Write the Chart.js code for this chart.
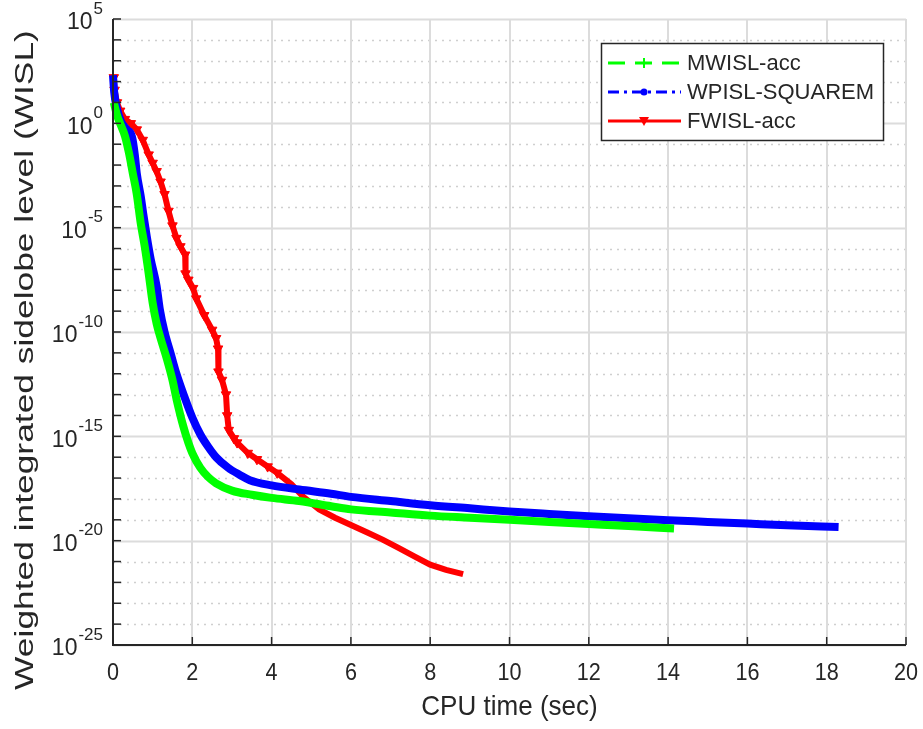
<!DOCTYPE html>
<html>
<head>
<meta charset="utf-8">
<script src="https://cdn.jsdelivr.net/npm/chart.js@4/dist/chart.umd.min.js"></script>
<style>
    html, body { margin: 0; padding: 0; background: #fff; }
    #wrap { width: 923px; height: 729px; }
</style>
</head>
<body>
<div id="wrap"><canvas id="wislChart" width="923" height="729"></canvas></div>
<script>
// values: CPU time (sec) and log10(WISL)
const mwislTime = [0.02, 0.1, 0.2, 0.3, 0.4, 0.5, 0.6, 0.7, 0.8, 0.9, 1.0, 1.1, 1.2, 1.36, 1.5, 1.6, 1.77, 1.9, 2.0, 2.2, 2.4, 2.6, 3.0, 3.5, 4.0, 4.7, 5.5, 6.0, 7.0, 8.0, 9.0, 10.0, 11.0, 12.0, 13.0, 14.15];
const mwislLog = [1.0, 0.4, -0.1, -0.6, -1.4, -2.4, -3.4, -4.8, -5.9, -7.2, -8.6, -9.6, -10.3, -11.3, -12.3, -13.2, -14.5, -15.3, -15.8, -16.5, -16.95, -17.25, -17.6, -17.8, -17.95, -18.1, -18.35, -18.5, -18.65, -18.8, -18.9, -19.0, -19.1, -19.2, -19.3, -19.42];

const wpislTime = [0.0, 0.03, 0.1, 0.2, 0.35, 0.48, 0.55, 0.6, 0.7, 0.76, 0.85, 0.95, 1.1, 1.18, 1.3, 1.45, 1.6, 1.8, 2.0, 2.2, 2.4, 2.6, 2.9, 3.2, 3.45, 4.0, 4.7, 5.5, 6.0, 7.0, 8.0, 9.0, 10.0, 11.0, 12.0, 13.0, 14.0, 15.0, 16.0, 17.0, 18.3];
const wpislLog = [2.3, 1.5, 0.7, 0.1, -0.3, -0.65, -1.5, -2.4, -3.5, -4.3, -5.4, -6.5, -7.8, -8.9, -10.0, -11.0, -12.0, -13.1, -14.1, -14.9, -15.5, -16.0, -16.5, -16.85, -17.1, -17.35, -17.55, -17.75, -17.9, -18.1, -18.3, -18.45, -18.6, -18.72, -18.83, -18.93, -19.02, -19.1, -19.18, -19.26, -19.35];

const fwislTime = [0.02, 0.04, 0.1, 0.18, 0.3, 0.45, 0.6, 0.75, 0.9, 1.0, 1.1, 1.2, 1.3, 1.4, 1.5, 1.6, 1.7, 1.82, 1.83, 1.9, 2.02, 2.1, 2.3, 2.5, 2.6, 2.65, 2.66, 2.75, 2.85, 2.88, 2.92, 3.05, 3.13, 3.4, 3.63, 3.9, 4.14, 4.5, 4.8, 5.2, 5.6, 6.0, 6.4, 6.8, 7.2, 7.6, 8.0, 8.4, 8.83];
const fwislLog = [2.2, 1.6, 1.0, 0.6, 0.2, 0.0, -0.3, -0.8, -1.5, -1.9, -2.3, -2.8, -3.4, -4.2, -4.9, -5.5, -5.9, -6.3, -7.2, -7.5, -7.9, -8.4, -9.2, -9.9, -10.3, -10.8, -11.9, -12.3, -13.0, -14.0, -14.7, -15.1, -15.3, -15.8, -16.1, -16.45, -16.75, -17.3, -17.9, -18.5, -18.9, -19.25, -19.6, -19.95, -20.35, -20.75, -21.15, -21.4, -21.6];

const xTicks = [0, 2, 4, 6, 8, 10, 12, 14, 16, 18, 20];
const yExponents = [5, 0, -5, -10, -15, -20, -25];
const seriesNames = ['MWISL-acc', 'WPISL-SQUAREM', 'FWISL-acc'];

const FONT = '"Liberation Sans", Arial, Helvetica, sans-serif';

function toPoints(times, logs) {
    return times.map((t, i) => ({ x: t, y: Math.pow(10, logs[i]) }));
}

// text with a stretch, the figure was saved a bit narrower than tall
function drawText(ctx, str, x, y, size, align, sx, rot) {
    ctx.save();
    ctx.translate(x, y);
    if (rot) ctx.rotate(rot);
    ctx.scale(sx, 1);
    ctx.font = size + 'px ' + FONT;
    ctx.textAlign = align;
    ctx.textBaseline = 'middle';
    ctx.fillStyle = '#262626';
    ctx.fillText(str, 0, 0);
    ctx.restore();
}

function drawMarker(ctx, style, x, y, color) {
    ctx.save();
    ctx.fillStyle = color;
    ctx.strokeStyle = color;
    ctx.lineWidth = 2;
    ctx.setLineDash([]);
    ctx.beginPath();
    if (style === 'plus') {
        ctx.moveTo(x - 5, y); ctx.lineTo(x + 5, y);
        ctx.moveTo(x, y - 5); ctx.lineTo(x, y + 5);
        ctx.stroke();
    } else if (style === 'dot') {
        ctx.arc(x, y, 3.5, 0, Math.PI * 2);
        ctx.fill();
    } else {
        ctx.moveTo(x - 5, y - 4); ctx.lineTo(x + 5, y - 4); ctx.lineTo(x, y + 5);
        ctx.closePath();
        ctx.fill();
    }
    ctx.restore();
}

const matlabAxes = {
    id: 'matlabAxes',
    beforeDatasetsDraw(chart) {
        const ctx = chart.ctx;
        const area = chart.chartArea;
        const xs = chart.scales.x, ys = chart.scales.y;
        ctx.save();
        // y grid, solid on every 5th decade, dotted between
        for (let e = -25; e <= 5; e++) {
            const py = Math.round(ys.getPixelForValue(Math.pow(10, e))) + 0.5;
            ctx.beginPath();
            if (e % 5 === 0) {
                ctx.setLineDash([]);
                ctx.strokeStyle = '#dcdcdc';
                ctx.lineWidth = 2;
            } else {
                ctx.setLineDash([2, 5]);
                ctx.strokeStyle = '#cfcfcf';
                ctx.lineWidth = 1.5;
            }
            ctx.moveTo(area.left, py);
            ctx.lineTo(area.right, py);
            ctx.stroke();
        }
        ctx.setLineDash([]);
        ctx.strokeStyle = '#dcdcdc';
        ctx.lineWidth = 2;
        xTicks.forEach(v => {
            if (v === 0) return;
            const px = Math.round(xs.getPixelForValue(v));
            ctx.beginPath();
            ctx.moveTo(px, area.top);
            ctx.lineTo(px, area.bottom);
            ctx.stroke();
        });
        ctx.restore();
    },
    afterDatasetsDraw(chart) {
        const ctx = chart.ctx;
        const area = chart.chartArea;
        const xs = chart.scales.x, ys = chart.scales.y;
        ctx.save();
        // axes lines
        ctx.strokeStyle = '#262626';
        ctx.lineWidth = 2;
        ctx.beginPath();
        ctx.moveTo(area.left, area.top);
        ctx.lineTo(area.left, area.bottom);
        ctx.lineTo(area.right, area.bottom);
        ctx.stroke();
        // tick marks
        ctx.lineWidth = 1.5;
        for (let e = -25; e <= 5; e++) {
            const py = ys.getPixelForValue(Math.pow(10, e));
            ctx.beginPath();
            ctx.moveTo(area.left, py);
            ctx.lineTo(area.left + 8, py);
            ctx.stroke();
        }
        xTicks.forEach(v => {
            const px = xs.getPixelForValue(v);
            ctx.beginPath();
            ctx.moveTo(px, area.bottom);
            ctx.lineTo(px, area.bottom - 8);
            ctx.stroke();
            drawText(ctx, String(v), px, area.bottom + 28, 24, 'center', 0.9);
        });
        yExponents.forEach(e => {
            const py = ys.getPixelForValue(Math.pow(10, e));
            const expStr = e === 0 ? '0' : (e < 0 ? '-' + (-e) : String(e));
            ctx.font = '17px ' + FONT;
            const expW = ctx.measureText(expStr).width;
            drawText(ctx, expStr, area.left - 10, py - 10, 17, 'right', 1);
            drawText(ctx, '10', area.left - 11 - expW, py + 4, 23, 'right', 1);
        });
        // axis titles
        drawText(ctx, 'CPU time (sec)', (area.left + area.right) / 2, 707, 28, 'center', 0.93);
        drawText(ctx, 'Weighted integrated sidelobe level (WISL)', 26, 360, 26, 'center', 1.36, -Math.PI / 2);

        // legend
        const lx = 601, ly = 43, lw = 282, lh = 97;
        ctx.fillStyle = '#fff';
        ctx.fillRect(lx, ly, lw, lh);
        ctx.strokeStyle = '#262626';
        ctx.lineWidth = 1.5;
        ctx.strokeRect(lx + 0.5, ly + 0.5, lw, lh);
        const rows = [63, 92, 121];
        const dashes = [[17, 10], [11, 5, 3, 5], []];
        const markers = ['plus', 'dot', 'tri'];
        chart.data.datasets.forEach((ds, i) => {
            const y = rows[i];
            ctx.save();
            ctx.strokeStyle = ds.borderColor;
            ctx.lineWidth = 3;
            ctx.setLineDash(dashes[i]);
            ctx.beginPath();
            ctx.moveTo(608, y);
            ctx.lineTo(681, y);
            ctx.stroke();
            ctx.restore();
            drawMarker(ctx, markers[i], 644, y, ds.borderColor);
            drawText(ctx, ds.label, 687, y + 1, 22, 'left', 1);
        });
        ctx.restore();
    }
};

const ctx = document.getElementById('wislChart').getContext('2d');
const wislChart = new Chart(ctx, {
    type: 'line',
    data: {
        datasets: [
            {
                label: seriesNames[0],
                data: toPoints(mwislTime, mwislLog),
                borderColor: '#00ff00',
                backgroundColor: '#00ff00',
                borderWidth: 8,
                pointRadius: 0,
                fill: false,
                cubicInterpolationMode: 'monotone',
                clip: 10
            },
            {
                label: seriesNames[1],
                data: toPoints(wpislTime, wpislLog),
                borderColor: '#0000ff',
                backgroundColor: '#0000ff',
                borderWidth: 8,
                pointRadius: 0,
                fill: false,
                cubicInterpolationMode: 'monotone',
                clip: 10
            },
            {
                label: seriesNames[2],
                data: toPoints(fwislTime, fwislLog),
                borderColor: '#ff0000',
                backgroundColor: '#ff0000',
                borderWidth: 6,
                pointStyle: 'triangle',
                pointRotation: 180,
                // markers only show up on the steep part, the tail is too dense
                pointRadius: fwislTime.map(t => (t < 4.3 ? 5.5 : 0)),
                pointBorderWidth: 1,
                pointBorderColor: '#ff0000',
                pointBackgroundColor: '#ff0000',
                fill: false,
                tension: 0,
                clip: 10
            }
        ]
    },
    options: {
        responsive: false,
        animation: false,
        devicePixelRatio: 1,
        layout: { padding: { top: 19, right: 17, left: 0, bottom: 0 } },
        scales: {
            x: {
                type: 'linear',
                min: 0,
                max: 20,
                ticks: { display: false },
                grid: { display: false },
                border: { display: false },
                afterFit(scale) { scale.height = 84; }
            },
            y: {
                type: 'logarithmic',
                min: 1e-25,
                max: 1e5,
                ticks: { display: false },
                grid: { display: false },
                border: { display: false },
                afterFit(scale) { scale.width = 113; }
            }
        },
        plugins: {
            legend: { display: false },
            tooltip: { enabled: false }
        }
    },
    plugins: [matlabAxes]
});
</script>
</body>
</html>
